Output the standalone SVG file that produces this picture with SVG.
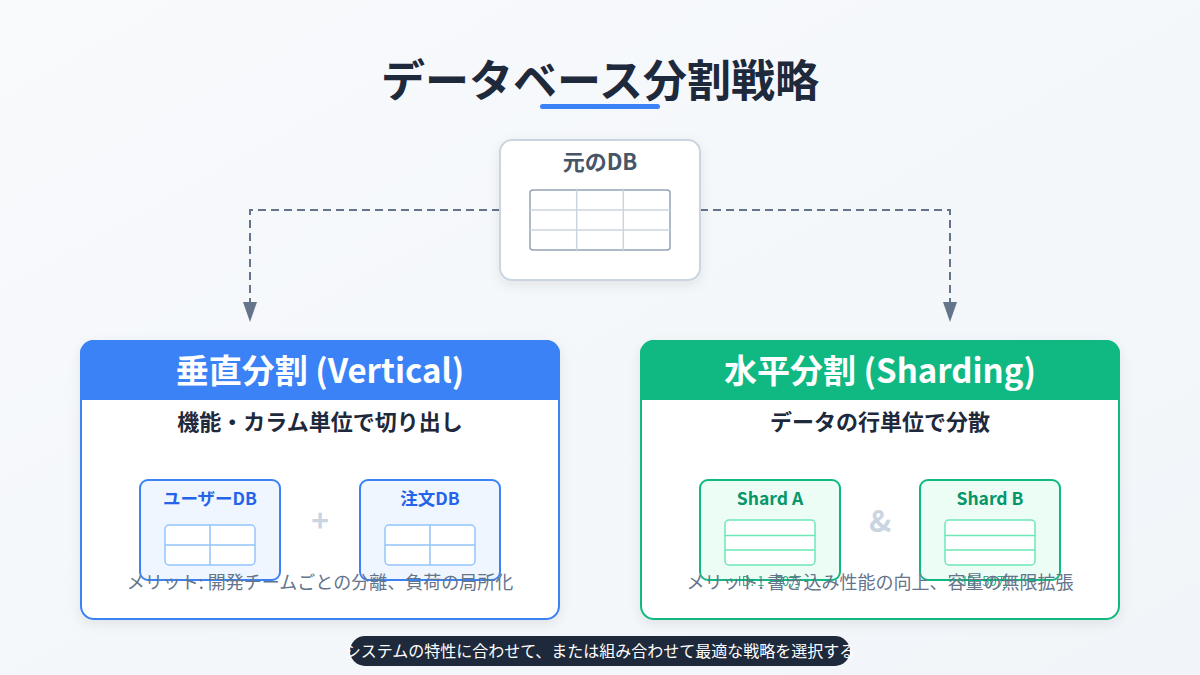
<svg xmlns="http://www.w3.org/2000/svg" width="1200" height="675" viewBox="0 0 1200 675">
<defs>
<linearGradient id="bg" x1="0" y1="0" x2="1" y2="1"><stop offset="0" stop-color="#f8fafc"/><stop offset="1" stop-color="#f1f5f9"/></linearGradient>
<filter id="sh" x="-10%" y="-10%" width="120%" height="130%"><feDropShadow dx="0" dy="4" stdDeviation="6" flood-color="#0f172a" flood-opacity="0.08"/></filter>
<clipPath id="cl"><rect x="80" y="340" width="480" height="280" rx="14"/></clipPath>
<clipPath id="cr"><rect x="640" y="340" width="480" height="280" rx="14"/></clipPath>
<style>
text{font-family:"Noto Sans CJK JP","Noto Sans",sans-serif}
.title{font-size:44px;font-weight:700;fill:#1e293b}
.hdr{font-size:33px;font-weight:700;fill:#ffffff}
.sub{font-size:22px;font-weight:700;fill:#1e293b}
.merit{font-size:18px;fill:#64748b}
.conn{fill:none;stroke:#64748b;stroke-width:2;stroke-dasharray:8,5}
.sym{font-size:30px;font-weight:700;fill:#cbd5e1}
.blabel{font-size:17.5px;font-weight:700}
.id{font-size:13px;fill:#059669;opacity:0.8}
</style>
</defs>
<rect width="1200" height="675" fill="url(#bg)"/>
<g id="title">
<text class="title" x="600" y="97" text-anchor="middle">データベース分割戦略</text>
<rect x="540" y="104" width="120" height="5" rx="2.5" fill="#3b82f6"/>
</g>
<g id="connectors">
<path class="conn" d="M500,210 H250 V306"/>
<path class="conn" d="M700,210 H950 V306"/>
<path d="M243,302 L257,302 L250,322 Z" fill="#64748b"/>
<path d="M943,302 L957,302 L950,322 Z" fill="#64748b"/>
</g>
<g id="original-db">
<rect x="500" y="140" width="200" height="140" rx="12" fill="#ffffff" stroke="#cbd5e1" stroke-width="2" filter="url(#sh)"/>
<text x="600" y="170" text-anchor="middle" font-size="22" font-weight="700" fill="#475569">元のDB</text>
<rect x="530" y="190" width="140" height="60" rx="3" fill="#ffffff" stroke="#94a3b8" stroke-width="1.5"/>
<path d="M530,210 H670 M530,230 H670 M576.7,190 V250 M623.3,190 V250" stroke="#cbd5e1" stroke-width="1.5"/>
</g>
<g id="vertical-panel">
<rect x="80" y="340" width="480" height="280" rx="14" fill="#ffffff" filter="url(#sh)"/>
<rect x="80" y="340" width="480" height="60" fill="#3b82f6" clip-path="url(#cl)"/>
<rect x="81" y="341" width="478" height="278" rx="13" fill="none" stroke="#3b82f6" stroke-width="2"/>
<text class="hdr" x="320" y="383" text-anchor="middle">垂直分割 (Vertical)</text>
<text class="sub" x="320" y="430" text-anchor="middle">機能・カラム単位で切り出し</text>
</g>
<g id="user-db">
<rect x="140" y="480" width="140" height="100" rx="8" fill="#eff6ff" stroke="#3b82f6" stroke-width="2"/>
<text class="blabel" x="210" y="505" text-anchor="middle" fill="#2563eb">ユーザーDB</text>
<rect x="165" y="525" width="90" height="40" rx="4" fill="#ffffff" stroke="#93c5fd" stroke-width="1.5"/>
<path d="M165,545 H255 M210,525 V565" stroke="#93c5fd" stroke-width="1.5"/>
</g>
<text class="sym" x="320" y="532" text-anchor="middle">+</text>
<g id="order-db">
<rect x="360" y="480" width="140" height="100" rx="8" fill="#eff6ff" stroke="#3b82f6" stroke-width="2"/>
<text class="blabel" x="430" y="505" text-anchor="middle" fill="#2563eb">注文DB</text>
<rect x="385" y="525" width="90" height="40" rx="4" fill="#ffffff" stroke="#93c5fd" stroke-width="1.5"/>
<path d="M385,545 H475 M430,525 V565" stroke="#93c5fd" stroke-width="1.5"/>
</g>
<text class="merit" x="320" y="589" text-anchor="middle">メリット: 開発チームごとの分離、負荷の局所化</text>
<g id="horizontal-panel">
<rect x="640" y="340" width="480" height="280" rx="14" fill="#ffffff" filter="url(#sh)"/>
<rect x="640" y="340" width="480" height="60" fill="#10b981" clip-path="url(#cr)"/>
<rect x="641" y="341" width="478" height="278" rx="13" fill="none" stroke="#10b981" stroke-width="2"/>
<text class="hdr" x="880" y="383" text-anchor="middle">水平分割 (Sharding)</text>
<text class="sub" x="880" y="430" text-anchor="middle">データの行単位で分散</text>
</g>
<g id="shard-a">
<rect x="700" y="480" width="140" height="100" rx="8" fill="#ecfdf5" stroke="#10b981" stroke-width="2"/>
<text class="blabel" x="770" y="505" text-anchor="middle" fill="#059669">Shard A</text>
<rect x="725" y="520" width="90" height="45" rx="4" fill="#ffffff" stroke="#6ee7b7" stroke-width="1.5"/>
<path d="M725,535.5 H815 M725,550 H815" stroke="#6ee7b7" stroke-width="1.5"/>
<text class="id" x="770" y="586" text-anchor="middle">ID: 1 - 50万</text>
</g>
<text class="sym" x="880" y="532" text-anchor="middle">&amp;</text>
<g id="shard-b">
<rect x="920" y="480" width="140" height="100" rx="8" fill="#ecfdf5" stroke="#10b981" stroke-width="2"/>
<text class="blabel" x="990" y="505" text-anchor="middle" fill="#059669">Shard B</text>
<rect x="945" y="520" width="90" height="45" rx="4" fill="#ffffff" stroke="#6ee7b7" stroke-width="1.5"/>
<path d="M945,535.5 H1035 M945,550 H1035" stroke="#6ee7b7" stroke-width="1.5"/>
<text class="id" x="990" y="586" text-anchor="middle">ID: 50万 -</text>
</g>
<text class="merit" x="880" y="589" text-anchor="middle">メリット: 書き込み性能の向上、容量の無限拡張</text>
<g id="footer">
<rect x="350" y="636" width="500" height="30" rx="15" fill="#1e293b"/>
<text x="600" y="657" text-anchor="middle" font-size="16" fill="#ffffff">システムの特性に合わせて、または組み合わせて最適な戦略を選択する</text>
</g>
</svg>
